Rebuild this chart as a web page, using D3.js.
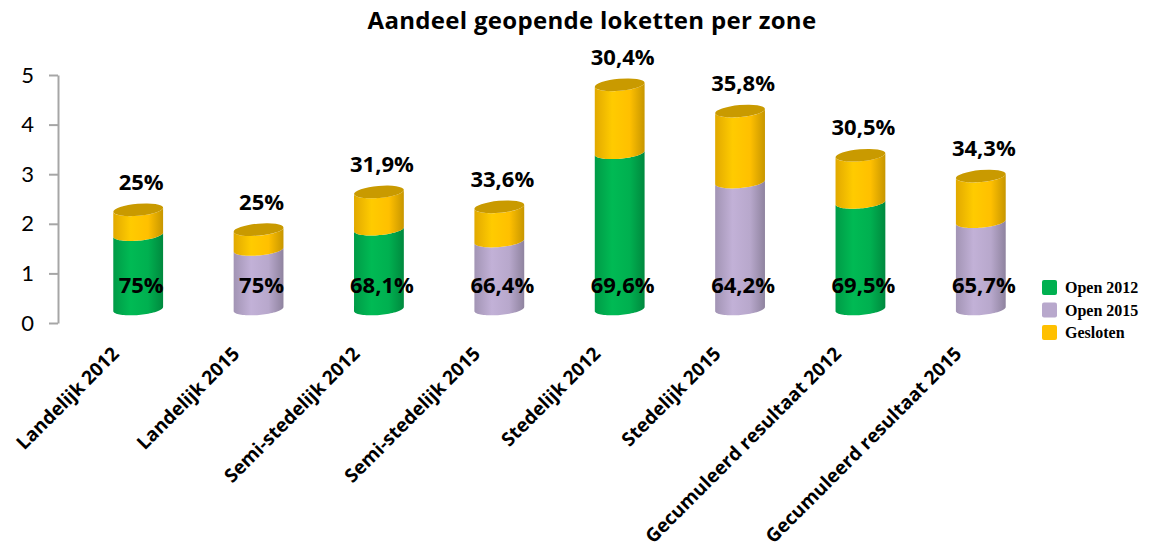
<!DOCTYPE html>
<html>
<head>
<meta charset="utf-8">
<script src="https://cdn.jsdelivr.net/npm/d3@7"></script>
<style>
  body { margin: 0; background: #fff; }
  text { font-family: "Open Sans", Lato, sans-serif; }
</style>
</head>
<body>
<div id="chart"></div>
<script>
var categories = ["Landelijk 2012", "Landelijk 2015", "Semi-stedelijk 2012", "Semi-stedelijk 2015",
                  "Stedelijk 2012", "Stedelijk 2015", "Gecumuleerd resultaat 2012", "Gecumuleerd resultaat 2015"];
var openSeries = ["Open 2012", "Open 2015", "Open 2012", "Open 2015",
                  "Open 2012", "Open 2015", "Open 2012", "Open 2015"];
var openValues   = [1.5, 1.2, 1.61, 1.37, 3.15, 2.56, 2.15, 1.76];
var closedValues = [0.5, 0.4, 0.75, 0.69, 1.37, 1.43, 0.95, 0.92];
var openLabels   = ["75%", "75%", "68,1%", "66,4%", "69,6%", "64,2%", "69,5%", "65,7%"];
var closedLabels = ["25%", "25%", "31,9%", "33,6%", "30,4%", "35,8%", "30,5%", "34,3%"];
var legendNames  = ["Open 2012", "Open 2015", "Gesloten"];
var yTicks = [0, 1, 2, 3, 4, 5];

var width = 1155, height = 556;
var colors = { "Open 2012": "#00B050", "Open 2015": "#B8A8CC", "Gesloten": "#FFC000" };
var capColor = "#C99A00";
var depth = 14, rx = 25, ry = 6, tilt = -5;

var svg = d3.select("#chart").append("svg")
    .attr("width", width)
    .attr("height", height);

var defs = svg.append("defs");
legendNames.forEach(function(name, i) {
  var base = d3.color(colors[name]);
  var g = defs.append("linearGradient")
      .attr("id", "grad" + i)
      .attr("x1", 0).attr("x2", 1).attr("y1", 0).attr("y2", 0);
  g.append("stop").attr("offset", "0%").attr("stop-color", base.darker(0.35));
  g.append("stop").attr("offset", "35%").attr("stop-color", base.brighter(0.15));
  g.append("stop").attr("offset", "70%").attr("stop-color", base);
  g.append("stop").attr("offset", "100%").attr("stop-color", base.darker(0.7));
});
function gradFor(name) { return "url(#grad" + legendNames.indexOf(name) + ")"; }

var x = d3.scaleBand()
    .domain(categories)
    .range([78, 1041])
    .paddingInner(0.585)
    .paddingOuter(0.2925);

var y = d3.scaleLinear()
    .domain([0, 5])
    .range([323, 75]);

// title
svg.append("text")
    .attr("x", 592)
    .attr("y", 29)
    .attr("text-anchor", "middle")
    .style("font-size", "24px")
    .style("letter-spacing", "0.3px")
    .style("font-weight", "bold")
    .text("Aandeel geopende loketten per zone");

// y axis
var yAxis = d3.axisLeft(y)
    .tickValues(yTicks)
    .tickFormat(d3.format("d"))
    .tickSize(9)
    .tickSizeOuter(0)
    .tickPadding(15);

var gy = svg.append("g")
    .attr("transform", "translate(58,0)")
    .call(yAxis);
gy.select(".domain").attr("stroke", "#A6A6A6").attr("stroke-width", 2);
gy.selectAll(".tick line").attr("stroke", "#A6A6A6").attr("stroke-width", 2);
gy.selectAll(".tick text")
    .style("font-size", "22px")
    .style("font-family", "Lato, sans-serif")
    .attr("fill", "#000");

function ellipsePt(cx, cy, t) {
  var a = tilt * Math.PI / 180;
  var ex = rx * Math.cos(t), ey = ry * Math.sin(t);
  return [cx + ex * Math.cos(a) - ey * Math.sin(a), cy + ex * Math.sin(a) + ey * Math.cos(a)];
}

function segmentPath(cx, yb, yt) {
  var pts = [], N = 40, i;
  for (i = 0; i <= N; i++) pts.push(ellipsePt(cx, yt, i / N * Math.PI));
  for (i = 0; i <= N; i++) pts.push(ellipsePt(cx, yb, Math.PI - i / N * Math.PI));
  return d3.line()(pts) + "Z";
}

var bars = svg.append("g").selectAll("g")
    .data(categories)
    .enter().append("g");

bars.each(function(cat, i) {
  var g = d3.select(this);
  var cx = x(cat) + x.bandwidth() / 2;
  var y0 = y(0) - depth;
  var y1 = y(openValues[i]) - depth;
  var y2 = y(openValues[i] + closedValues[i]) - depth;

  g.append("path")
      .attr("d", segmentPath(cx, y0, y1))
      .attr("fill", gradFor(openSeries[i]));
  g.append("path")
      .attr("d", segmentPath(cx, y1, y2))
      .attr("fill", gradFor("Gesloten"));
  g.append("ellipse")
      .attr("cx", cx).attr("cy", y2)
      .attr("rx", rx).attr("ry", ry)
      .attr("transform", "rotate(" + tilt + "," + cx + "," + y2 + ")")
      .attr("fill", capColor);

  g.append("text")
      .attr("x", cx + 3)
      .attr("y", y2 - 20)
      .attr("text-anchor", "middle")
      .style("font-size", "22px")
      .style("font-weight", "bold")
      .text(closedLabels[i]);

  g.append("text")
      .attr("x", cx + 3)
      .attr("y", y0 - 16)
      .attr("text-anchor", "middle")
      .style("font-size", "22px")
      .style("font-weight", "bold")
      .text(openLabels[i]);
});

// category labels
svg.append("g").selectAll("text")
    .data(categories)
    .enter().append("text")
    .attr("text-anchor", "end")
    .attr("transform", function(d) {
      return "translate(" + (x(d) + x.bandwidth() / 2 - 18) + ",355) rotate(-45)";
    })
    .style("font-size", "19px")
    .style("font-weight", "bold")
    .text(function(d) { return d; });

// legend
var legend = svg.append("g")
    .attr("transform", "translate(1042,280)")
    .selectAll("g")
    .data(legendNames)
    .enter().append("g")
    .attr("transform", function(d, i) { return "translate(0," + (i * 22.5) + ")"; });

legend.append("rect")
    .attr("width", 15).attr("height", 15)
    .attr("rx", 2)
    .attr("fill", function(d) { return colors[d]; });

legend.append("text")
    .attr("x", 23)
    .attr("y", 13)
    .style("font-family", "'Liberation Serif', serif")
    .style("font-size", "16px")
    .style("font-weight", "bold")
    .text(function(d) { return d; });
</script>
</body>
</html>
